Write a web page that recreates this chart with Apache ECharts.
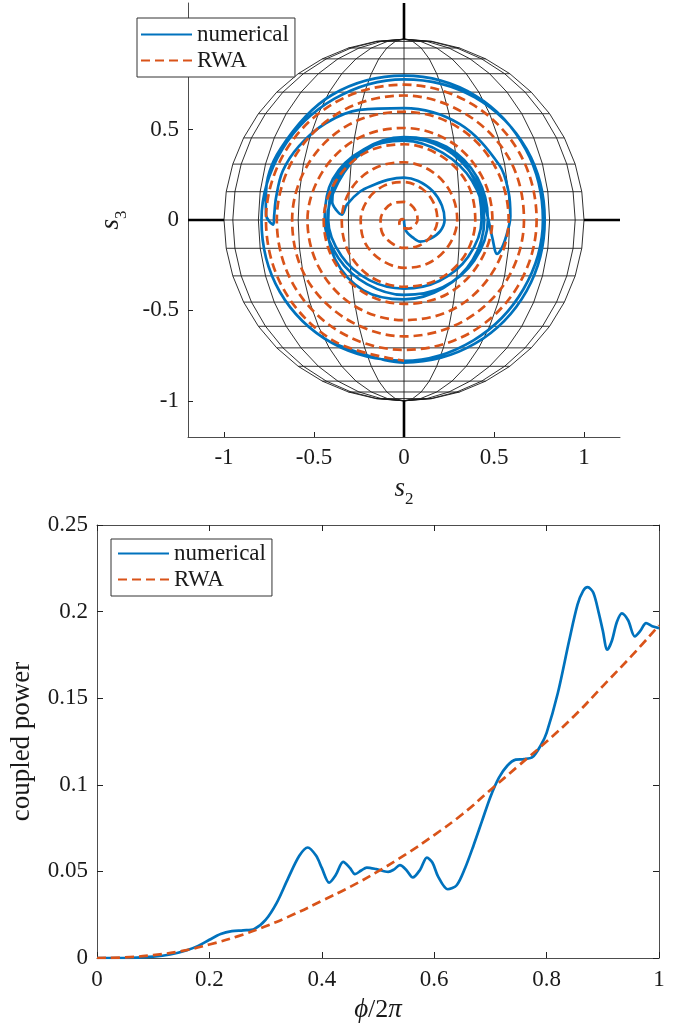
<!DOCTYPE html>
<html>
<head>
<meta charset="utf-8">
<title>Poincare sphere trajectory and coupled power</title>
<script src="https://cdn.jsdelivr.net/npm/echarts@6/dist/echarts.min.js"></script>
<style>
html, body { margin: 0; padding: 0; background: #fff; }
#chart { width: 679px; height: 1029px; }
</style>
</head>
<body>
<div id="chart"></div>
<script>
const chart = echarts.init(document.querySelector('#chart'), null, {renderer: 'canvas'});
const font = "'Liberation Serif', 'DejaVu Serif', serif";
const BLUE = '#0072BD';
const ORANGE = '#D95319';

// ---- top panel: trajectory on the Poincare sphere, as [radius, angle in deg]
const numSpiral = [
    [0.00, 280], [0.06, 280], [0.11, 297], [0.15, 307], [0.18, 325], [0.21, 343],
    [0.225, 0], [0.225, 21], [0.226, 45], [0.23, 70], [0.235, 90], [0.24, 112],
    [0.257, 131], [0.29, 147], [0.328, 165], [0.346, 175], [0.377, 172], [0.41, 166],
    [0.43, 150], [0.45, 120], [0.46, 90], [0.47, 60], [0.47, 30], [0.465, 0],
    [0.45, 330], [0.43, 300], [0.415, 270], [0.41, 240], [0.42, 210], [0.44, 180],
    [0.455, 150], [0.45, 120], [0.44, 90], [0.43, 60], [0.435, 30], [0.445, 0],
    [0.44, 330], [0.435, 300], [0.44, 270], [0.45, 240], [0.44, 210], [0.425, 180],
    [0.42, 150], [0.44, 120], [0.46, 90], [0.465, 60], [0.45, 30], [0.43, 0],
    [0.41, 330], [0.39, 300], [0.38, 270], [0.385, 240], [0.40, 210], [0.42, 180],
    [0.44, 150], [0.45, 120], [0.455, 90], [0.455, 60], [0.455, 30], [0.46, 5],
    [0.50, 348.5], [0.549, 340], [0.565, 344.6], [0.578, 354], [0.59, 2],
    [0.60, 15], [0.61, 30], [0.615, 60], [0.62, 90], [0.658, 112], [0.69, 129],
    [0.712, 145], [0.725, 158], [0.72, 170], [0.72, 178], [0.725, 182],
    [0.765, 178], [0.778, 170], [0.79, 150], [0.80, 120], [0.80, 90], [0.795, 60],
    [0.78, 30], [0.77, 0], [0.765, 330], [0.77, 300], [0.78, 270], [0.79, 240],
    [0.795, 210], [0.79, 180], [0.78, 150], [0.775, 120], [0.78, 90], [0.785, 60],
    [0.785, 30], [0.78, 0], [0.785, 330], [0.79, 300], [0.79, 270], [0.787, 240]
];

const rwaSpiral = [
    [0.00, 120], [0.01, 150], [0.02, 180], [0.03, 210], [0.04, 240], [0.045, 270],
    [0.055, 300], [0.065, 330], [0.075, 0], [0.08, 30], [0.09, 60], [0.10, 90],
    [0.11, 120], [0.12, 150], [0.13, 180], [0.14, 210], [0.145, 240], [0.155, 270],
    [0.165, 300], [0.175, 330], [0.185, 0], [0.19, 30], [0.20, 60], [0.21, 90],
    [0.22, 120], [0.23, 150], [0.24, 180], [0.25, 210], [0.255, 240], [0.265, 270],
    [0.275, 300], [0.285, 330], [0.295, 0], [0.30, 30], [0.31, 60], [0.32, 90],
    [0.33, 120], [0.34, 150], [0.345, 180], [0.355, 210], [0.365, 240], [0.37, 270],
    [0.38, 300], [0.39, 330], [0.395, 0], [0.405, 30], [0.41, 60], [0.42, 90],
    [0.43, 120], [0.435, 150], [0.445, 180], [0.45, 210], [0.46, 240], [0.465, 270],
    [0.475, 300], [0.48, 330], [0.49, 0], [0.495, 30], [0.505, 60], [0.51, 90],
    [0.52, 120], [0.525, 150], [0.535, 180], [0.54, 210], [0.55, 240], [0.555, 270],
    [0.565, 300], [0.57, 330], [0.58, 0], [0.585, 30], [0.595, 60], [0.60, 90],
    [0.61, 120], [0.615, 150], [0.62, 180], [0.63, 210], [0.635, 240], [0.645, 270],
    [0.65, 300], [0.66, 330], [0.665, 0], [0.675, 30], [0.68, 60], [0.69, 90],
    [0.695, 120], [0.70, 150], [0.705, 180], [0.71, 210], [0.715, 240], [0.72, 270],
    [0.725, 300], [0.73, 330], [0.735, 0], [0.74, 30], [0.745, 60], [0.75, 90],
    [0.755, 120], [0.76, 150], [0.765, 180], [0.77, 210], [0.775, 240], [0.78, 270]
];

// sphere(20) wireframe, seen along s1
const latitudesDeg = [-81, -72, -63, -54, -45, -36, -27, -18, -9, 0, 9, 18, 27, 36, 45, 54, 63, 72, 81];
const meridianDeg = [18, 36, 54, 72, 90];
const sphereTicks = [-1, -0.5, 0, 0.5, 1];
const axisLim = 1.2;

// ---- bottom panel
const phiNum = [0, 0.05, 0.1, 0.13, 0.16, 0.18, 0.2, 0.22, 0.24, 0.26, 0.28, 0.3, 0.32, 0.34, 0.36,
    0.375, 0.39, 0.4, 0.413, 0.425, 0.438, 0.45, 0.459, 0.47, 0.48, 0.497, 0.518, 0.528, 0.539,
    0.55, 0.562, 0.575, 0.587, 0.597, 0.607, 0.624, 0.64, 0.655, 0.67, 0.685, 0.7, 0.715, 0.73,
    0.745, 0.76, 0.775, 0.79, 0.8, 0.82, 0.84, 0.855, 0.865, 0.873, 0.883, 0.893, 0.9, 0.908,
    0.916, 0.925, 0.934, 0.945, 0.957, 0.967, 0.977, 0.988, 1.0];
const powerNum = [0, 0, 0.0008, 0.002, 0.0045, 0.007, 0.0105, 0.0138, 0.0155, 0.016, 0.0168, 0.022,
    0.032, 0.046, 0.059, 0.0638, 0.059, 0.052, 0.0435, 0.048, 0.0555, 0.052, 0.0484, 0.0505,
    0.0522, 0.0513, 0.0497, 0.051, 0.0536, 0.051, 0.0465, 0.051, 0.058, 0.055, 0.047, 0.0397,
    0.042, 0.052, 0.065, 0.079, 0.093, 0.104, 0.111, 0.1145, 0.1148, 0.116, 0.123, 0.13, 0.153,
    0.183, 0.204, 0.212, 0.2141, 0.211, 0.199, 0.189, 0.178, 0.183, 0.194, 0.199, 0.195, 0.1857,
    0.189, 0.1934, 0.1915, 0.1905];
const phiRwa = [0, 0.05, 0.1, 0.15, 0.2, 0.25, 0.3, 0.35, 0.4, 0.45, 0.5, 0.55, 0.6, 0.65, 0.7,
    0.75, 0.8, 0.85, 0.9, 0.95, 1.0];
const powerRwa = [0, 0.0004, 0.0017, 0.004, 0.0078, 0.0125, 0.0183, 0.0252, 0.033, 0.041, 0.05,
    0.06, 0.071, 0.083, 0.097, 0.111, 0.125, 0.14, 0.157, 0.174, 0.192];

const rad = d => d * Math.PI / 180;
const nodeLat = [-90].concat(latitudesDeg, [90]);
const meshLines = [];
latitudesDeg.forEach(l => {
    meshLines.push([[-Math.cos(rad(l)), Math.sin(rad(l))], [Math.cos(rad(l)), Math.sin(rad(l))]]);
});
meshLines.push([[0, -1], [0, 1]]);
meridianDeg.forEach(m => {
    const w = Math.sin(rad(m));
    meshLines.push(nodeLat.map(l => [w * Math.cos(rad(l)), Math.sin(rad(l))]));
    meshLines.push(nodeLat.map(l => [-w * Math.cos(rad(l)), Math.sin(rad(l))]));
});
const axisStubs = [
    [[0, 1], [0, axisLim]], [[0, -1], [0, -axisLim]],
    [[1, 0], [axisLim, 0]], [[-1, 0], [-axisLim, 0]]
];

const axisColor = '#4d4d4d';
const curveWidth = 2.7;
const labelStyle = {color: '#1a1a1a', fontFamily: font, fontSize: 23};
const subRich = {
    i: {fontFamily: font, fontStyle: 'italic', fontSize: 27, color: '#1a1a1a', verticalAlign: 'bottom', padding: [0, 0, 6, 0]},
    b: {fontFamily: font, fontSize: 17, color: '#1a1a1a', verticalAlign: 'bottom'},
    n: {fontFamily: font, fontSize: 26, color: '#1a1a1a', verticalAlign: 'bottom', padding: [0, 0, 6, 0]}
};

function legendAt(left, top, pad) {
    return {
        left: left, top: top, orient: 'vertical',
        data: ['numerical', 'RWA'],
        itemWidth: 51, itemHeight: 14, itemGap: 1,
        padding: pad,
        borderColor: '#333', borderWidth: 1, borderRadius: 0,
        backgroundColor: '#fff',
        // hide the marker dot, keep only the line sample
        itemStyle: {color: 'rgba(0,0,0,0)', borderColor: 'rgba(0,0,0,0)', borderWidth: 0},
        textStyle: {fontFamily: font, fontSize: 23, color: '#1a1a1a', lineHeight: 25},
        selectedMode: false
    };
}

const option = {
    animation: false,
    backgroundColor: '#fff',
    grid: [
        {left: 188, top: 3, width: 432, height: 434},
        {left: 97, top: 525, width: 562, height: 433}
    ],
    polar: {center: [404, 220], radius: [0, 216.5]},
    angleAxis: {type: 'value', min: 0, max: 360, startAngle: 0, clockwise: false, show: false},
    radiusAxis: {type: 'value', min: 0, max: axisLim, show: false},
    legend: [legendAt(137, 18, [4, 6, 4, 3]), legendAt(111, 539, [2, 6, 4, 6])],
    xAxis: [
        {
            gridIndex: 0, type: 'value', min: -axisLim, max: axisLim,
            name: '{i|s}{b|2}', nameLocation: 'middle', nameGap: 38,
            nameTextStyle: {rich: subRich},
            axisLine: {show: true, onZero: false, lineStyle: {color: axisColor, width: 1}},
            axisTick: {show: true, inside: true, length: 5, customValues: sphereTicks, lineStyle: {color: '#222'}},
            axisLabel: {customValues: sphereTicks, margin: 9, ...labelStyle},
            splitLine: {show: false}
        },
        {
            gridIndex: 1, type: 'value', min: 0, max: 1, interval: 0.2,
            name: '{i|ϕ}{n|/2}{i|π}', nameLocation: 'middle', nameGap: 38,
            nameTextStyle: {rich: subRich},
            axisLine: {show: true, onZero: false, lineStyle: {color: axisColor, width: 1}},
            axisTick: {show: true, inside: true, length: 6, lineStyle: {color: '#222'}},
            axisLabel: {margin: 10, ...labelStyle},
            splitLine: {show: false}
        },
        {
            gridIndex: 1, type: 'value', min: 0, max: 1, interval: 0.2, position: 'top',
            axisLine: {show: true, onZero: false, lineStyle: {color: axisColor, width: 1}},
            axisTick: {show: true, inside: true, length: 6, lineStyle: {color: '#222'}},
            axisLabel: {show: false}, splitLine: {show: false}
        }
    ],
    yAxis: [
        {
            gridIndex: 0, type: 'value', min: -axisLim, max: axisLim,
            name: '{i|s}{b|3}', nameLocation: 'middle', nameGap: 58,
            nameTextStyle: {rich: subRich},
            axisLine: {show: true, onZero: false, lineStyle: {color: axisColor, width: 1}},
            axisTick: {show: true, inside: true, length: 5, customValues: sphereTicks, lineStyle: {color: '#222'}},
            axisLabel: {customValues: sphereTicks, margin: 9, ...labelStyle},
            splitLine: {show: false}
        },
        {
            gridIndex: 1, type: 'value', min: 0, max: 0.25, interval: 0.05,
            name: 'coupled power', nameLocation: 'middle', nameGap: 62,
            nameTextStyle: {fontFamily: font, fontSize: 27, color: '#1a1a1a'},
            axisLine: {show: true, onZero: false, lineStyle: {color: axisColor, width: 1}},
            axisTick: {show: true, inside: true, length: 6, lineStyle: {color: '#222'}},
            axisLabel: {margin: 9, ...labelStyle},
            splitLine: {show: false}
        },
        {
            gridIndex: 1, type: 'value', min: 0, max: 0.25, interval: 0.05, position: 'right',
            axisLine: {show: true, onZero: false, lineStyle: {color: axisColor, width: 1}},
            axisTick: {show: true, inside: true, length: 6, lineStyle: {color: '#222'}},
            axisLabel: {show: false}, splitLine: {show: false}
        }
    ],
    series: [
        {
            type: 'lines', coordinateSystem: 'cartesian2d', xAxisIndex: 0, yAxisIndex: 0,
            polyline: true, silent: true, z: 1,
            lineStyle: {color: '#1a1a1a', width: 0.9, opacity: 1},
            data: meshLines.map(c => ({coords: c}))
        },
        {
            type: 'lines', coordinateSystem: 'cartesian2d', xAxisIndex: 0, yAxisIndex: 0,
            polyline: true, silent: true, z: 1,
            lineStyle: {color: '#000', width: 2.6, opacity: 1},
            data: axisStubs.map(c => ({coords: c}))
        },
        {
            name: 'numerical', type: 'line', coordinateSystem: 'polar', polarIndex: 0,
            data: numSpiral, symbol: 'none', smooth: 0.35, z: 3,
            lineStyle: {color: BLUE, width: curveWidth}, itemStyle: {color: BLUE}
        },
        {
            name: 'RWA', type: 'line', coordinateSystem: 'polar', polarIndex: 0,
            data: rwaSpiral, symbol: 'none', smooth: 0.35, z: 4,
            lineStyle: {color: ORANGE, width: curveWidth, type: [9, 5]}, itemStyle: {color: ORANGE}
        },
        {
            name: 'numerical', type: 'line', xAxisIndex: 1, yAxisIndex: 1,
            data: phiNum.map((x, i) => [x, powerNum[i]]), symbol: 'none', smooth: 0.3, z: 3,
            lineStyle: {color: BLUE, width: curveWidth}, itemStyle: {color: BLUE}
        },
        {
            name: 'RWA', type: 'line', xAxisIndex: 1, yAxisIndex: 1,
            data: phiRwa.map((x, i) => [x, powerRwa[i]]), symbol: 'none', smooth: true, z: 4,
            lineStyle: {color: ORANGE, width: curveWidth, type: [9, 5]}, itemStyle: {color: ORANGE}
        }
    ]
};

chart.setOption(option);
window.addEventListener('resize', chart.resize);
</script>
</body>
</html>
